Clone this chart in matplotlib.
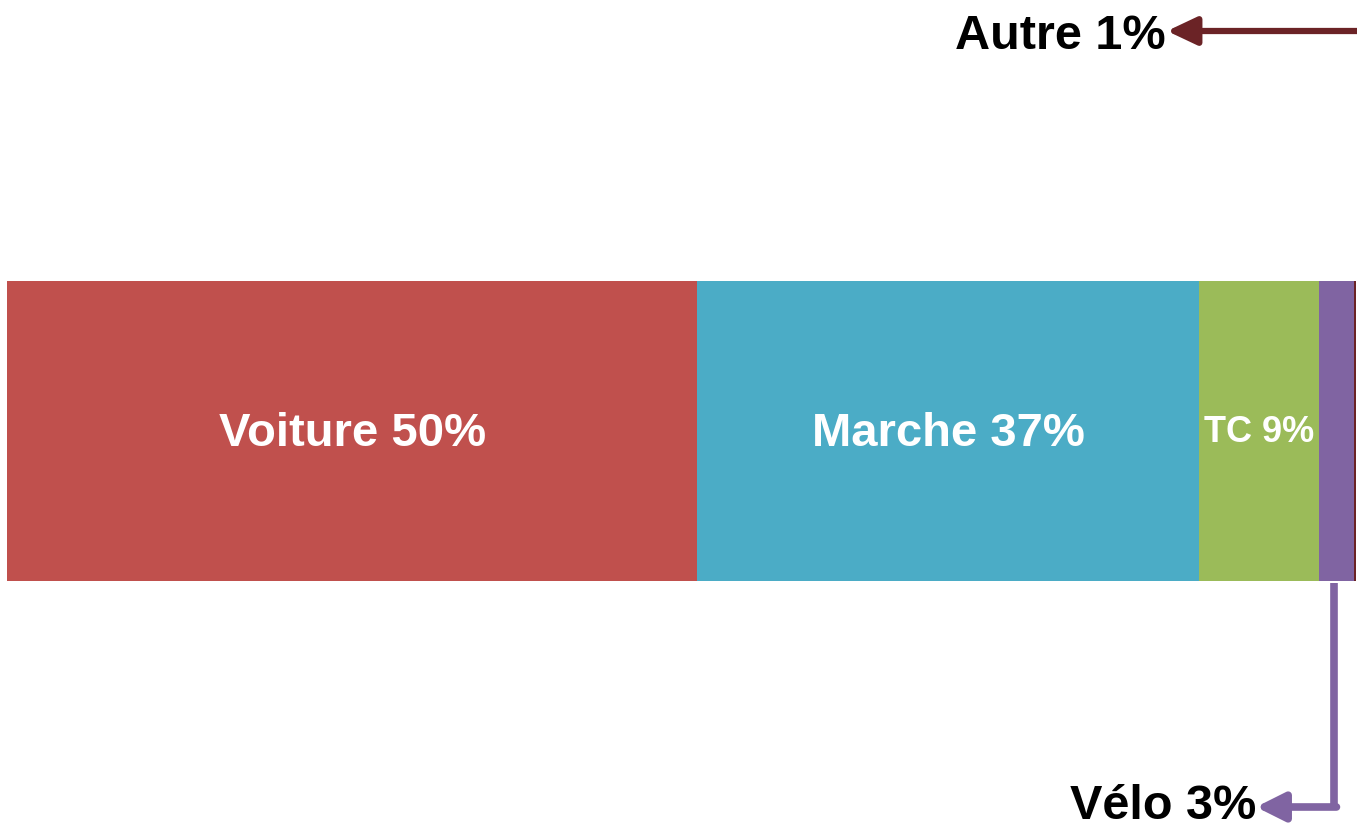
import matplotlib
matplotlib.use("Agg")
import matplotlib.pyplot as plt

plt.rcParams['font.family'] = ['Liberation Sans', 'DejaVu Sans']

# parts modales (largeur) et libelles affiches
modes = ['Voiture', 'Marche', 'TC', 'Vélo', 'Autre']
parts = [51.2, 37.2, 8.9, 2.6, 0.15]
labels = ['Voiture 50%', 'Marche 37%', 'TC 9%', 'Vélo 3%', 'Autre 1%']
colors = ['#C0504D', '#4BACC6', '#9BBB59', '#8064A2', '#6B2326']

W, H = 1357, 826
total = sum(parts)
scale = total / 1349.0


def px(x):
    # pixel horizontal -> unite de donnees
    return (x - 7) * scale


fig = plt.figure(figsize=(W / 100, H / 100), dpi=100)
ax = fig.add_axes([0, 0, 1, 1])
ax.set_xlim(px(0), px(W))
ax.set_ylim(H, 0)
ax.axis('off')

left = 0
starts = []
for val, col in zip(parts, colors):
    ax.barh(431, val, left=left, height=300, color=col, linewidth=0)
    starts.append(left)
    left += val

# libelles dans la barre
ax.text(starts[0] + parts[0] / 2, 434, labels[0], color='white', fontsize=34,
        fontweight='bold', ha='center', va='center')
ax.text(starts[1] + parts[1] / 2, 434, labels[1], color='white', fontsize=34,
        fontweight='bold', ha='center', va='center')
ax.text(starts[2] + parts[2] / 2, 433, labels[2], color='white', fontsize=26,
        fontweight='bold', ha='center', va='center')

# Autre : fleche horizontale en haut
ax.text(px(1166), 49, labels[4], color='black', fontsize=35, fontweight='bold',
        ha='right', va='baseline')
ax.annotate('', xy=(px(1167), 31), xytext=(px(W), 31),
            arrowprops=dict(arrowstyle='-|>,head_length=1.8,head_width=0.85',
                            color=colors[4], lw=4.5, shrinkA=0, shrinkB=0),
            annotation_clip=False)

# Velo : fleche coudee vers le bas
xv = starts[3] + parts[3] / 2 - 2 * scale
ax.plot([xv, xv], [583, 807], color=colors[3], lw=5.5, solid_capstyle='butt')
ax.annotate('', xy=(px(1256), 807), xytext=(xv + 2 * scale, 807),
            arrowprops=dict(arrowstyle='-|>,head_length=1.7,head_width=0.85',
                            color=colors[3], lw=5.5, shrinkA=0, shrinkB=0),
            annotation_clip=False)
ax.text(px(1256), 819, labels[3], color='black', fontsize=35, fontweight='bold',
        ha='right', va='baseline')

fig.savefig('out.png', dpi=100)
